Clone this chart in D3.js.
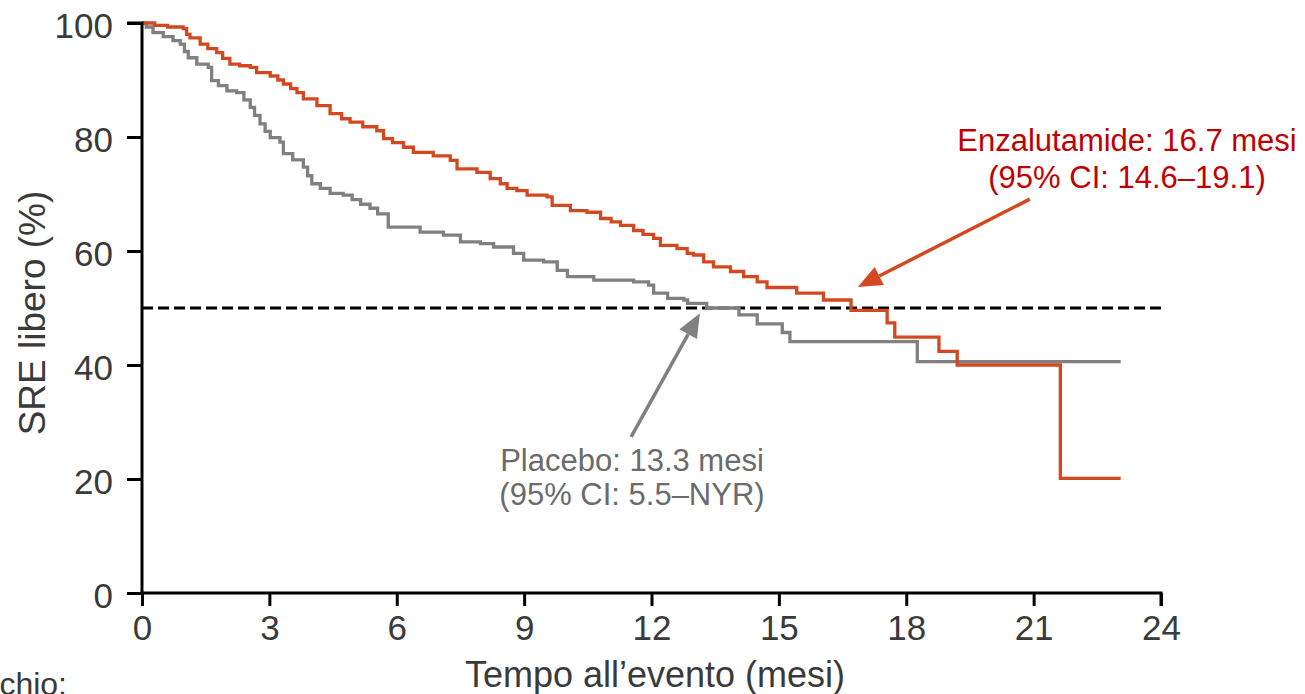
<!DOCTYPE html>
<html>
<head>
<meta charset="utf-8">
<script src="https://cdn.jsdelivr.net/npm/d3@7/dist/d3.min.js"></script>
<style>
  html, body { margin: 0; padding: 0; background: #fff; }
  svg { display: block; font-family: "Liberation Sans", Arial, sans-serif; }
</style>
</head>
<body>
<svg id="chart" width="1305" height="694"></svg>
<script>
// ---- Data ----
const xTicks = [0, 3, 6, 9, 12, 15, 18, 21, 24];
const yTicks = [0, 20, 40, 60, 80, 100];

// Enzalutamide Kaplan-Meier steps: time (months) and SRE-free (%)
const enzaTime = [0, 0.3, 0.6, 0.97, 1.05, 1.13, 1.37, 1.55, 1.76, 1.9, 2.07, 2.3, 2.55, 2.7, 3.02, 3.2, 3.33, 3.5, 3.65, 3.8,
  4.12, 4.43, 4.7, 4.9, 5.2, 5.53, 5.69, 5.9, 6.16, 6.39, 6.86, 7.26, 7.42, 7.89, 8.2, 8.44, 8.6, 8.83, 9.07, 9.54,
  9.66, 10.09, 10.48, 10.8, 11.05, 11.27, 11.58, 11.8, 12.05, 12.21, 12.6, 12.84, 12.99, 13.23, 13.46, 13.86, 14.17,
  14.49, 14.72, 15.42, 16.05, 16.7, 17.55, 17.73, 18.77, 19.2, 21.63, 23.05];
const enzaValue = [100, 99.6, 99.3, 99.0, 98.0, 97.4, 96.3, 95.5, 94.8, 93.8, 92.8, 92.5, 92.2, 91.3, 90.7, 90.0, 89.3, 88.5, 87.8, 86.7,
  85.5, 84.1, 83.2, 82.6, 81.8, 81.1, 79.7, 79.0, 78.2, 77.3, 76.7, 75.9, 74.4, 73.8, 72.7, 71.8, 71.0, 70.6, 69.8, 69.5,
  68.0, 67.1, 66.8, 65.7, 65.1, 64.5, 63.6, 62.9, 62.2, 61.0, 60.4, 59.6, 59.3, 58.1, 57.2, 56.4, 55.5,
  54.6, 53.6, 52.6, 51.4, 49.6, 47.4, 44.9, 42.4, 40.0, 20.1, 20.1];

// Placebo Kaplan-Meier steps
const placTime = [0, 0.1, 0.26, 0.5, 0.73, 0.9, 1.0, 1.09, 1.29, 1.56, 1.64, 1.8, 2.0, 2.23, 2.4, 2.55, 2.65, 2.78, 2.9, 3.02,
  3.25, 3.33, 3.55, 3.8, 3.9, 4.0, 4.2, 4.43, 4.74, 4.95, 5.15, 5.37, 5.55, 5.8, 6.55, 7.1, 7.5, 7.97, 8.28, 8.75,
  8.99, 9.46, 9.78, 10.02, 10.64, 11.58, 11.93, 12.05, 12.38, 12.76, 12.85, 13.3, 14.06, 14.49, 15.08, 15.26, 18.26, 23.05];
const placValue = [100, 99.3, 98.3, 97.6, 96.9, 96.3, 95.0, 93.9, 92.8, 92.2, 89.9, 89.0, 88.1, 87.8, 86.5, 85.2, 83.8, 82.3, 81.0, 79.9,
  79.1, 77.1, 76.0, 74.7, 73.2, 71.8, 71.0, 70.1, 69.8, 69.0, 68.2, 67.5, 66.5, 64.2, 63.3, 62.8, 61.6, 61.3, 60.7, 59.6,
  58.4, 58.1, 56.6, 55.5, 54.9, 54.6, 54.0, 52.6, 51.7, 51.4, 50.8, 50.0, 48.8, 47.2, 45.7, 44.1, 40.6, 40.6];

const medianLevel = 50;
const enzaLabel = ["Enzalutamide: 16.7 mesi", "(95% CI: 14.6\u201319.1)"];
const placLabel = ["Placebo: 13.3 mesi", "(95% CI: 5.5\u2013NYR)"];
// arrows in data units: [tailTime, tailValue, tipTime, tipValue]
const enzaArrow = [20.91, 69.1, 16.86, 53.7];
const placArrow = [11.52, 27.4, 13.14, 49.1];

// ---- Layout ----
const svg = d3.select("#chart");
const x = d3.scaleLinear().domain([0, 24]).range([142, 1161]);
const y = d3.scaleLinear().domain([0, 100]).range([593, 23]);

const RED = "#d4481f", GRAY = "#808080", RED_TXT = "#c00000", GRAY_TXT = "#6b6b6b", TICK_TXT = "#3a3a3a";

// dashed median line
svg.append("line")
  .attr("x1", x(0)).attr("x2", x(24) + 2)
  .attr("y1", y(medianLevel)).attr("y2", y(medianLevel))
  .attr("stroke", "#000").attr("stroke-width", 3.2).attr("stroke-dasharray", "11,5");

// curves
const line = d3.line().x(d => x(d[0])).y(d => y(d[1])).curve(d3.curveStepAfter);
const placData = placTime.map((t, i) => [t, placValue[i]]);
const enzaData = enzaTime.map((t, i) => [t, enzaValue[i]]);
svg.append("path").attr("d", line(placData)).attr("fill", "none").attr("stroke", GRAY).attr("stroke-width", 3.3);
svg.append("path").attr("d", line(enzaData)).attr("fill", "none").attr("stroke", RED).attr("stroke-width", 3.3);

// axes
const xAxis = svg.append("g").attr("transform", `translate(0,${y(0)})`)
  .call(d3.axisBottom(x).tickValues(xTicks).tickSize(13).tickPadding(9).tickSizeOuter(0));
const yAxis = svg.append("g").attr("transform", `translate(${x(0)},0)`)
  .call(d3.axisLeft(y).tickValues(yTicks).tickSize(15).tickPadding(14).tickSizeOuter(0));
[xAxis, yAxis].forEach(g => {
  g.select(".domain").attr("stroke", "#000").attr("stroke-width", 3);
  g.selectAll(".tick line").attr("stroke", "#000").attr("stroke-width", 3);
  g.selectAll(".tick text").attr("fill", TICK_TXT).style("font-size", "35px")
    .style("font-family", "'Liberation Sans', Arial, sans-serif");
});
yAxis.selectAll(".tick text").attr("dy", "0.42em");
// extend domains to cover corner
xAxis.select(".domain").attr("d", `M${x(0) - 1.5},0H${x(24)}V13`);
yAxis.select(".domain").attr("d", `M0,${y(0) + 1.5}V${y(100)}H-15`);

// axis titles
svg.append("text").attr("x", 655).attr("y", 687).attr("text-anchor", "middle")
  .attr("fill", TICK_TXT).style("font-size", "36px").text("Tempo all\u2019evento (mesi)");
svg.append("text").attr("transform", "translate(45,313) rotate(-90)").attr("text-anchor", "middle")
  .attr("fill", TICK_TXT).style("font-size", "37px").text("SRE libero (%)");

// cut-off number at risk label (cut at the page edge as in the reference)
svg.append("text").attr("x", 67).attr("y", 695).attr("text-anchor", "end")
  .attr("fill", TICK_TXT).style("font-size", "32px").text("Pazienti a rischio:");

// arrows
function arrow(a, color) {
  const x1 = x(a[0]), y1 = y(a[1]), x2 = x(a[2]), y2 = y(a[3]);
  const ang = Math.atan2(y2 - y1, x2 - x1);
  const L = 24, W = 10;
  const bx = x2 - L * Math.cos(ang), by = y2 - L * Math.sin(ang);
  svg.append("line").attr("x1", x1).attr("y1", y1).attr("x2", bx).attr("y2", by)
    .attr("stroke", color).attr("stroke-width", 3.5);
  const px = -Math.sin(ang) * W, py = Math.cos(ang) * W;
  svg.append("path")
    .attr("d", `M${x2},${y2}L${bx + px},${by + py}L${bx - px},${by - py}Z`)
    .attr("fill", color);
}
arrow(enzaArrow, RED);
arrow(placArrow, GRAY);

// labels
const enzaT = svg.append("text").attr("text-anchor", "middle").attr("fill", RED_TXT).style("font-size", "31px");
enzaT.append("tspan").attr("x", 1127).attr("y", 151).text(enzaLabel[0]);
enzaT.append("tspan").attr("x", 1127).attr("y", 188).text(enzaLabel[1]);
const placT = svg.append("text").attr("text-anchor", "middle").attr("fill", GRAY_TXT).style("font-size", "31px");
placT.append("tspan").attr("x", 632).attr("y", 471).text(placLabel[0]);
placT.append("tspan").attr("x", 632).attr("y", 505).text(placLabel[1]);
</script>
</body>
</html>
